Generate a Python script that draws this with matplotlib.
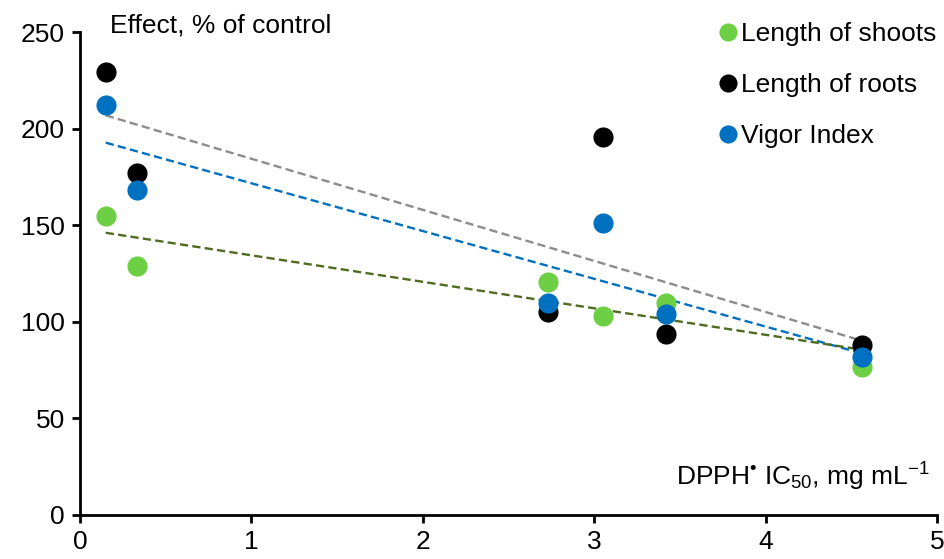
import numpy as np
import matplotlib
matplotlib.use("Agg")
import matplotlib.pyplot as plt

plt.rcParams['font.family'] = ['Liberation Sans', 'DejaVu Sans']
plt.rcParams['mathtext.fontset'] = 'custom'
plt.rcParams['mathtext.rm'] = 'Liberation Sans'
plt.rcParams['mathtext.it'] = 'Liberation Sans:italic'
plt.rcParams['mathtext.bf'] = 'Liberation Sans:bold'

ic50 = [0.15, 0.33, 2.73, 3.05, 3.42, 4.56]
shoots = [155, 129, 120.5, 103, 109.5, 76.5]
roots = [229.5, 177, 105, 195.5, 93.5, 88]
vigor = [212, 168, 109.5, 151, 104, 82]

labels = ["Length of shoots", "Length of roots", "Vigor Index"]
colors = ["#6DCF44", "#000000", "#0070C0"]
trend_colors = ["#4F6B1F", "#8C8C8C", "#0070C0"]

fig = plt.figure(figsize=(9.45, 5.59), dpi=100)
ax = fig.add_axes([80/945, 1-515/559, (937-80)/945, (515-32)/559])

x = np.array(ic50)
series = [shoots, roots, vigor]
order_trend = [1, 2, 0]
for i in order_trend:
    y = np.array(series[i])
    k, b = np.polyfit(x, y, 1)
    xs = np.array([x.min(), x.max()])
    ax.plot(xs, k*xs+b, linestyle=(0, (3.5, 1.8)), color=trend_colors[i], lw=1.7, zorder=2)

for y, lab, c in zip(series, labels, colors):
    ax.plot(ic50, y, 'o', color=c, markersize=14.5, label=lab, zorder=3, markeredgewidth=0)

ax.set_xlim(0, 5)
ax.set_ylim(0, 250)
ax.set_xticks([0, 1, 2, 3, 4, 5])
ax.set_yticks([0, 50, 100, 150, 200, 250])
for s in ['top', 'right']:
    ax.spines[s].set_visible(False)
for s in ['left', 'bottom']:
    ax.spines[s].set_linewidth(2)
ax.tick_params(axis='both', direction='out', length=6, width=2, labelsize=19)
ax.tick_params(axis='x', pad=5)
ax.tick_params(axis='y', pad=5)

ax.text(110, 559-25, "Effect, % of control", transform=None, fontsize=19, va='center', ha='left')
fig.text(930/945, 1-477/559, "DPPH$^{\u2022}$ IC$_{50}$, mg mL$^{\u2212\\mathrm{1}}$",
         fontsize=19, ha='right', va='center')

leg = ax.legend(loc='upper right', bbox_to_anchor=(1.021, 1.058), frameon=False, fontsize=19,
                handletextpad=0.0, labelspacing=1.02, markerscale=0.9, handlelength=1.0,
                borderaxespad=0.3)

fig.savefig("out.png", dpi=100)
